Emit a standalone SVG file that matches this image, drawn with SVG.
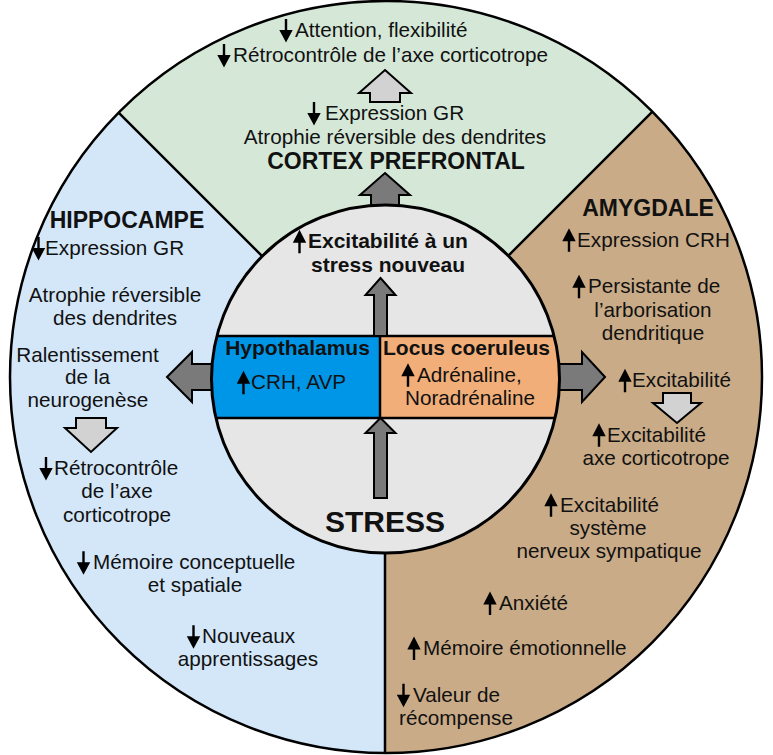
<svg xmlns="http://www.w3.org/2000/svg" xmlns:xlink="http://www.w3.org/1999/xlink" width="773" height="755" viewBox="0 0 773 755">
<style>
text{font-family:"Liberation Sans",Arial,sans-serif;fill:#111;font-size:20.7px}
.b{font-weight:bold;font-size:21px}
.t{font-weight:bold;font-size:23px}
.m{text-anchor:middle}
.big{fill:#7a7a7a;stroke:#000;stroke-width:2;stroke-linejoin:miter}
.lite{fill:#d2d2d2;stroke:#000;stroke-width:2}
.sec{stroke:none}
.div{stroke:#000;stroke-width:2.5;fill:none}
</style>
<defs>
<path id="up" d="M0,-18.5 L6.7,-5.5 L1.2,-5.5 L1.2,5 L-1.2,5 L-1.2,-5.5 L-6.7,-5.5 Z" fill="#000"/>
<path id="dn" d="M-1.2,-18 L1.2,-18 L1.2,-7 L6.7,-7 L0,5.5 L-6.7,-7 L-1.2,-7 Z" fill="#000"/>
<clipPath id="ic"><circle cx="385.5" cy="379" r="174"/></clipPath>
</defs>
<rect width="773" height="755" fill="#fff"/>

<g id="cortex">
<path class="sec" fill="#d5e8d7" d="M385,379 L118.6,112.6 A376,376 0 0 1 652.4,111.6 Z"/>
<use xlink:href="#dn" x="286" y="37"/><text x="295" y="37">Attention, flexibilité</text>
<use xlink:href="#dn" x="224" y="62"/><text x="233" y="62">Rétrocontrôle de l’axe corticotrope</text>
<use xlink:href="#dn" x="314" y="120"/><text x="325" y="120">Expression GR</text>
<text class="m" x="395" y="144">Atrophie réversible des dendrites</text>
<text class="t m" x="396" y="169">CORTEX PREFRONTAL</text>
</g>

<g id="amygdale">
<path class="sec" fill="#c9ab87" d="M385,379 L652.4,111.6 A376,376 0 0 1 385,753 Z"/>
<text class="t m" x="648" y="216">AMYGDALE</text>
<use xlink:href="#up" x="569" y="246.7"/><text x="577" y="246.7">Expression CRH</text>
<use xlink:href="#up" x="579" y="293.3"/><text x="588" y="293.3">Persistante de</text>
<text class="m" x="653" y="316.7">l’arborisation</text>
<text class="m" x="653" y="340">dendritique</text>
<use xlink:href="#up" x="625" y="387.3"/><text x="632" y="387.3">Excitabilité</text>
<use xlink:href="#up" x="599" y="441.7"/><text x="607" y="441.7">Excitabilité</text>
<text class="m" x="656" y="465">axe corticotrope</text>
<use xlink:href="#up" x="551" y="511.7"/><text x="560" y="511.7">Excitabilité</text>
<text class="m" x="608" y="535">système</text>
<text class="m" x="609" y="558.3">nerveux sympatique</text>
<use xlink:href="#up" x="490" y="610"/><text x="499" y="610">Anxiété</text>
<use xlink:href="#up" x="414" y="655"/><text x="423" y="655">Mémoire émotionnelle</text>
<use xlink:href="#dn" x="403.5" y="701.7"/><text x="413" y="701.7">Valeur de</text>
<text class="m" x="456" y="725">récompense</text>
</g>

<g id="hippocampe">
<path class="sec" fill="#d3e7f9" d="M385,379 L385,753 A376,376 0 0 1 118.6,112.6 Z"/>
<text class="t m" x="127" y="228">HIPPOCAMPE</text>
<use xlink:href="#dn" x="38.5" y="255"/><text x="45" y="255">Expression GR</text>
<text class="m" x="115" y="301.7">Atrophie réversible</text>
<text class="m" x="115" y="325">des dendrites</text>
<text class="m" x="87.5" y="361.7">Ralentissement</text>
<text class="m" x="87.5" y="384">de la</text>
<text class="m" x="88" y="406.7">neurogenèse</text>
<use xlink:href="#dn" x="46" y="475"/><text x="54" y="475">Rétrocontrôle</text>
<text class="m" x="117" y="498.3">de l’axe</text>
<text class="m" x="117" y="521.7">corticotrope</text>
<use xlink:href="#dn" x="83.5" y="569.3"/><text x="93" y="569.3">Mémoire conceptuelle</text>
<text class="m" x="195" y="591.7">et spatiale</text>
<use xlink:href="#dn" x="193.5" y="643.3"/><text x="202" y="643.3">Nouveaux</text>
<text class="m" x="248" y="666">apprentissages</text>
</g>

<g id="borders">
<circle cx="386" cy="377" r="376" fill="none" stroke="#000" stroke-width="2.5"/>
<path class="div" d="M385,379 L118.6,112.6 M385,379 L652.4,111.6 M385,379 L385,753"/>
</g>

<g id="connectors">
<path class="big" d="M385,173 L410,195 L399,195 L399,215 L371,215 L371,195 L360,195 Z"/>
<path class="lite" d="M385,70 L411,93 L400,93 L400,102 L370,102 L370,93 L359,93 Z"/>
<path class="big" d="M167,377 L192,352 L192,364 L220,364 L220,390 L192,390 L192,402 Z"/>
<path class="big" d="M605,377 L582,352 L582,364 L552,364 L552,390 L582,390 L582,402 Z"/>
<path class="lite" d="M76,418 L106,418 L106,428 L117,428 L91,452 L65,428 L76,428 Z"/>
<path class="lite" d="M663,393 L691,393 L691,403 L701,403 L677,423 L653,403 L663,403 Z"/>
</g>

<g id="centre">
<circle cx="385.5" cy="379" r="174" fill="#e6e6e6"/>
<g clip-path="url(#ic)">
<rect id="hypothalamus-box" x="200" y="336" width="180" height="82" fill="#0096e8"/>
<rect id="locus-box" x="380" y="336" width="190" height="82" fill="#f2ae78"/>
<path d="M200,336 H570 M200,418 H570 M380,336 V418" stroke="#000" stroke-width="2.5" fill="none"/>
</g>
<circle cx="385.5" cy="379" r="174" fill="none" stroke="#000" stroke-width="3"/>
<use xlink:href="#up" x="299.5" y="248.3"/><text class="b" x="308" y="248.3">Excitabilité à un</text>
<text class="b m" x="388" y="271.7">stress nouveau</text>
<text class="t m" x="385" y="531.7" style="font-size:30px">STRESS</text>
</g>

<g id="hypothalamus">
<text class="b m" x="297.5" y="355">Hypothalamus</text>
<use xlink:href="#up" x="243.5" y="389.3"/><text x="251" y="389.3">CRH, AVP</text>
</g>

<g id="locus">
<text class="b m" x="466.5" y="355">Locus coeruleus</text>
<use xlink:href="#up" x="408" y="381.7"/><text x="417" y="381.7">Adrénaline,</text>
<text class="m" x="470" y="405">Noradrénaline</text>
</g>

<g id="connectors-inner">
<path class="big" d="M380.5,278 L395.5,295 L387,295 L387,336 L374,336 L374,295 L365.5,295 Z"/>
<path class="big" d="M380.5,418 L395.5,433 L387,433 L387,498 L374,498 L374,433 L365.5,433 Z"/>
</g>
</svg>
